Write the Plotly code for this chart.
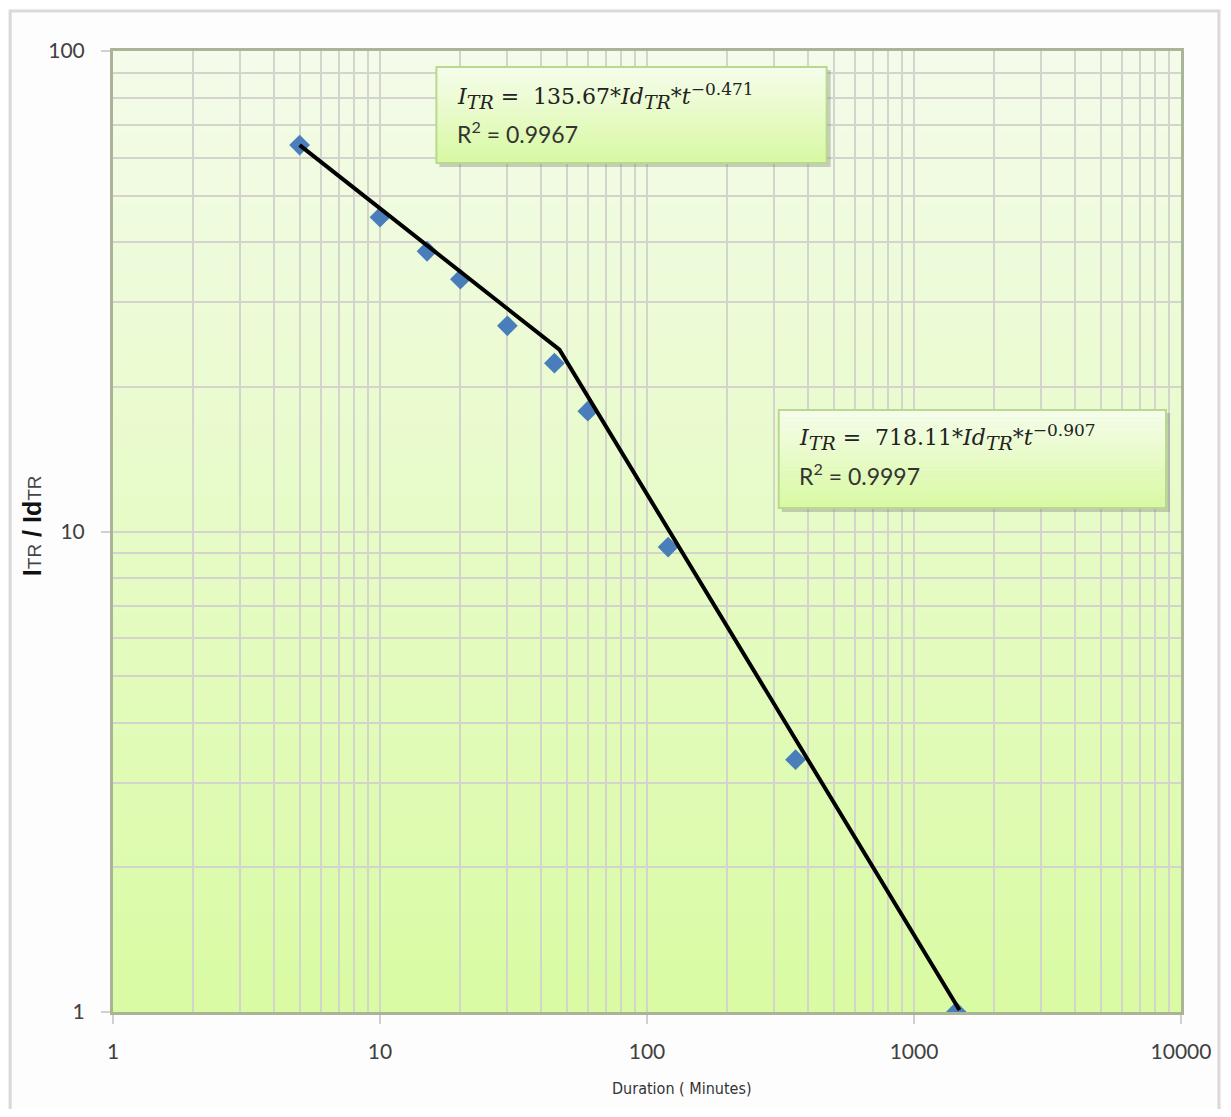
import plotly.graph_objects as go

# ---- data ----
duration_min = [5, 10, 15, 20, 30, 45, 60, 120, 360, 1440]
itr_ratio = [63.7, 45.1, 38.3, 33.5, 26.8, 22.4, 17.8, 9.28, 3.35, 1.0]

fit_x = [5, 47, 1480]
fit_y = [63.7, 23.9, 1.01]

x_tickvals = [1, 10, 100, 1000, 10000]
x_ticktext = ["1", "10", "100", "1000", "10000"]
y_tickvals = [1, 10, 100]
y_ticktext = ["1", "10", "100"]

SUB = "<sub><span style='font-size:19px'><i>TR</i></span></sub>"
SUP = "<sup><span style='font-size:17px'>−%s</span></sup>"
eq1_text = "<i>I</i>" + SUB + " =  135.67*<i>Id</i>" + SUB + "*<i>t</i>" + SUP % "0.471"
r1_text = "R<sup>2</sup> = 0.9967"
eq2_text = "<i>I</i>" + SUB + " =  718.11*<i>Id</i>" + SUB + "*<i>t</i>" + SUP % "0.907"
r2_text = "R<sup>2</sup> = 0.9997"

# ---- layout geometry (pixels, page has an 8px body margin) ----
OFF = 8
W, H = 1231 - 2 * OFF, 1117 - 2 * OFF
L = 113 - OFF
T = 51 - OFF
R = OFF + W - 1183
B = OFF + H - 1012
PW, PH = W - L - R, H - T - B


def px(x):
    return (x - OFF - L) / PW


def py(y):
    return (H - B - (y - OFF)) / PH


def lerp_hex(c1, c2, t):
    a = [int(c1[i:i + 2], 16) for i in (1, 3, 5)]
    b = [int(c2[i:i + 2], 16) for i in (1, 3, 5)]
    return "rgb(%d,%d,%d)" % tuple(round(a[k] + (b[k] - a[k]) * t) for k in range(3))


fig = go.Figure()

fig.add_trace(go.Scatter(
    x=duration_min, y=itr_ratio, mode="markers",
    marker=dict(symbol="diamond", size=16, color="#4a7ebb", line=dict(width=0)),
    showlegend=False))

fig.add_trace(go.Scatter(
    x=fit_x, y=fit_y, mode="lines",
    line=dict(color="#000000", width=4),
    showlegend=False))

shapes = []
# gradient plot background
N = 80
for i in range(N):
    t0 = i / N
    t1 = (i + 1) / N
    shapes.append(dict(type="rect", xref="x domain", yref="y domain",
                       x0=0, x1=1, y0=1 - t1, y1=1 - t0 + 0.002,
                       fillcolor=lerp_hex("#f4fbea", "#d9fba3", (t0 + t1) / 2),
                       line=dict(width=0), layer="below"))


def add_box(x0, y0, x1, y1):
    # shadow
    shapes.append(dict(type="rect", xref="paper", yref="paper",
                       x0=px(x0 + 3), x1=px(x1 + 4), y0=py(y1 + 4), y1=py(y0 + 3),
                       fillcolor="rgba(120,120,120,0.35)", line=dict(width=0), layer="above"))
    n = 24
    for i in range(n):
        a = y0 + (y1 - y0) * i / n
        b = y0 + (y1 - y0) * (i + 1) / n
        shapes.append(dict(type="rect", xref="paper", yref="paper",
                           x0=px(x0), x1=px(x1), y0=py(b + 0.5), y1=py(a),
                           fillcolor=lerp_hex("#f6fdec", "#d8f9a2", (i + 0.5) / n),
                           line=dict(width=0), layer="above"))
    shapes.append(dict(type="rect", xref="paper", yref="paper",
                       x0=px(x0), x1=px(x1), y0=py(y1), y1=py(y0),
                       fillcolor="rgba(0,0,0,0)", line=dict(color="#b9d98e", width=2),
                       layer="above"))


add_box(437, 67, 828, 163)
add_box(780, 410, 1168, 508)

# outer chart frame
shapes.append(dict(type="rect", xref="paper", yref="paper",
                   x0=px(10), x1=px(1221), y0=py(1125), y1=py(11),
                   fillcolor="rgba(0,0,0,0)", line=dict(color="#d9d9d9", width=3),
                   layer="below"))

serif = "DejaVu Serif, Liberation Serif, serif"
sans = "Lato, Carlito, Open Sans, sans-serif"

annotations = [
    dict(xref="paper", yref="paper", x=px(456), y=py(96), xanchor="left", yanchor="middle",
         text=eq1_text, showarrow=False, font=dict(family=serif, size=22, color="#222222")),
    dict(xref="paper", yref="paper", x=px(456), y=py(132), xanchor="left", yanchor="middle",
         text=r1_text, showarrow=False, font=dict(family=sans, size=23, color="#333333")),
    dict(xref="paper", yref="paper", x=px(798), y=py(437), xanchor="left", yanchor="middle",
         text=eq2_text, showarrow=False, font=dict(family=serif, size=22, color="#222222")),
    dict(xref="paper", yref="paper", x=px(798), y=py(474), xanchor="left", yanchor="middle",
         text=r2_text, showarrow=False, font=dict(family=sans, size=23, color="#333333")),
    # axis titles
    dict(xref="paper", yref="paper", x=px(683), y=py(1088), xanchor="center", yanchor="middle",
         text="Duration ( Minutes)", showarrow=False,
         font=dict(family="Liberation Sans Narrow, DejaVu Sans Condensed, Arial Narrow, sans-serif",
                   size=16, color="#333333")),
    dict(xref="paper", yref="paper", x=px(32), y=py(526), xanchor="center", yanchor="middle",
         text=("<b>I</b><span style='font-size:19px;color:#444444'>TR</span><b> / Id</b>"
               "<span style='font-size:19px;color:#444444'>TR</span>"),
         textangle=-90, showarrow=False,
         font=dict(family="Liberation Sans, Arial, sans-serif", size=25, color="#111111")),
]

axis_common = dict(
    type="log",
    showgrid=True, gridcolor="#d3d4cc", gridwidth=2,
    showline=True, linecolor="#a9b596", linewidth=3, mirror=True,
    ticks="outside", ticklen=9, tickcolor="#d0d0d0", tickwidth=2,
    tickfont=dict(family=sans, size=21, color="#404040"),
    zeroline=False,
    minor=dict(dtick="D1", showgrid=True, gridcolor="#d3d4cc", gridwidth=2, ticks=""),
    tickmode="array",
)

fig.update_xaxes(**axis_common, tickvals=x_tickvals, ticktext=x_ticktext,
                 range=[0, 4], ticklabelstandoff=10)
fig.update_yaxes(**axis_common, tickvals=y_tickvals, ticktext=y_ticktext,
                 range=[0, 2], ticklabelstandoff=12)

fig.update_layout(
    width=W, height=H,
    margin=dict(l=L, r=R, t=T, b=B),
    paper_bgcolor="#fdfdfd",
    plot_bgcolor="rgba(0,0,0,0)",
    shapes=shapes,
    annotations=annotations,
    showlegend=False,
)

fig.write_html("out.html")
